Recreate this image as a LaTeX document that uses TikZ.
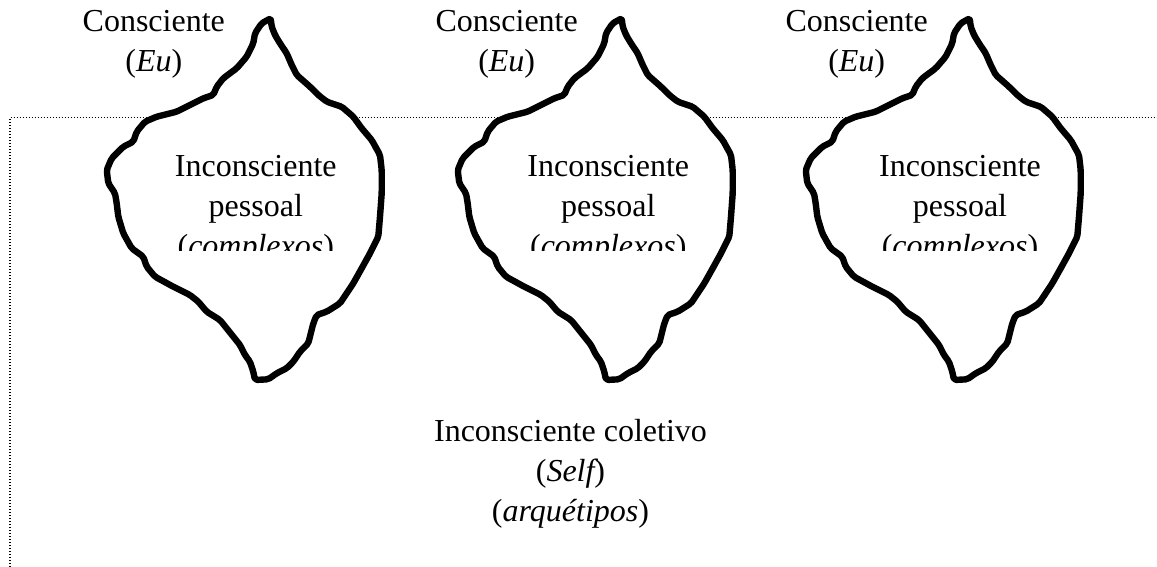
\documentclass[tikz,border=0pt]{standalone}
\usepackage{fontspec}
\setmainfont{Liberation Serif}
\begin{document}
\begin{tikzpicture}[x=0.75pt,y=-0.75pt,
  blob/.style={draw=black,fill=white,line width=4.8pt,line join=round,rounded corners=1.5pt},
  sep/.style={draw=black,line width=0.8pt,dash pattern=on 1pt off 1.25pt},
  lbl/.style={align=center,inner sep=0pt,anchor=north,font=\fontsize{24}{30}\selectfont}]
\useasboundingbox (0,0) rectangle (1157,567);
% separating line
\draw[sep] (10,567) -- (10,117.7) -- (1157,117.7);
% blobs
\foreach \dx in {0,351,699}{
\begin{scope}[shift={(\dx,0)}]
\draw[blob] (270.7,18.3) -- (261.7,23.3) -- (255,33.3) -- (253.3,43.3) -- (246.7,56.7) -- (236.7,68.3) -- (223.3,78.3) -- (216.7,86.7) -- (213.3,95) -- (203.3,98.3) -- (190,105) -- (176.7,111.7) -- (156.7,116.7) -- (145,121.7) -- (136.7,131.7) -- (133.3,141.7) -- (123.3,146.7) -- (111.7,158.3) -- (106.7,170) -- (108.3,183.3) -- (115,193.3) -- (116.7,203.3) -- (118.3,216.7) -- (123.3,233.3) -- (131.7,248.3) -- (143.3,256.7) -- (146.7,266.7) -- (155,276.7) -- (173.3,286.7) -- (190,295) -- (198.3,301.7) -- (206.7,311.7) -- (220,320) -- (240,345) -- (245,355) -- (250,361.7) -- (253.3,371.7) -- (255,380) -- (268.3,379.3) -- (276.7,373.3) -- (286.7,368.3) -- (293.3,361.7) -- (300,351.7) -- (308.3,343.3) -- (313.3,323.3) -- (316.7,315) -- (326.7,311.7) -- (340,303.3) -- (346.7,293.3) -- (353.3,283.3) -- (361.7,268.3) -- (370,253.3) -- (378.3,236.7) -- (380,216.7) -- (381.7,193.3) -- (381.7,170) -- (380,155) -- (371.7,140) -- (361.7,128.3) -- (353.3,116.7) -- (341.7,106.7) -- (326.7,101.7) -- (318.3,95) -- (310,86.7) -- (296.7,75) -- (291.7,65) -- (286.7,53.3) -- (280,43.3) -- (275,35) -- (271.7,26.7) -- cycle;
\end{scope}}
% texts above the line
\node[lbl] (c1) at (153.8,10.5) {Consciente\\({\itshape Eu})};
\node[lbl] (c2) at (506.7,10.5) {Consciente\\({\itshape Eu})};
\node[lbl] (c3) at (856.7,10.5) {Consciente\\({\itshape Eu})};
% personal unconscious, clipped
\begin{scope}
\clip (140,130) rectangle (1100,250);
\node[lbl] (p1) at (255.8,155.5) {Inconsciente\\pessoal\\({\itshape complexos})};
\node[lbl] (p2) at (608.3,155.5) {Inconsciente\\pessoal\\({\itshape complexos})};
\node[lbl] (p3) at (960,155.5) {Inconsciente\\pessoal\\({\itshape complexos})};
\end{scope}
% collective
\node[lbl] (col) at (570.5,418.8) {Inconsciente coletivo\\({\itshape Self})\\({\itshape arquétipos})};
\end{tikzpicture}
\end{document}
